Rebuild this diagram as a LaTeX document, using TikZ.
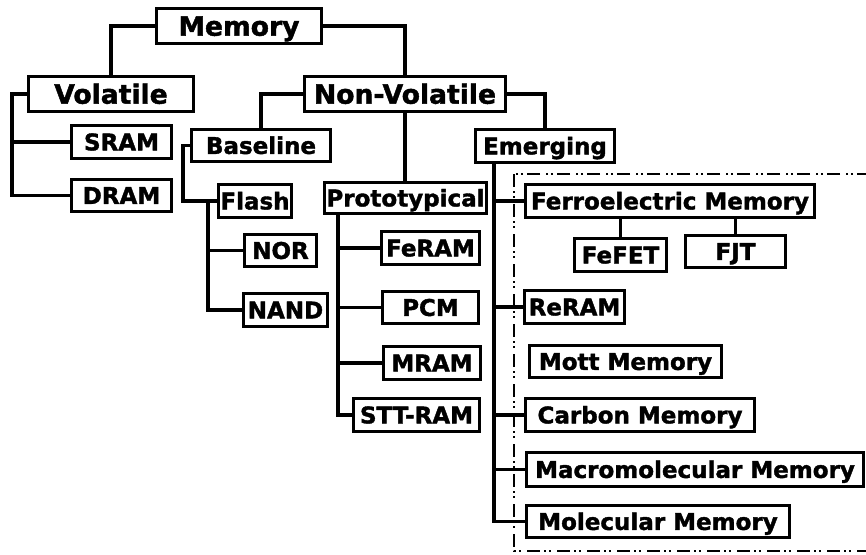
\documentclass[tikz,border=0pt]{standalone}
\usepackage{fontspec}
\setmainfont{DejaVu Sans}[BoldFeatures={FakeBold=1.6}]
\usetikzlibrary{calc}

% labelled box from its outer corners (x1,y1)-(x2,y2), y counted downwards
\newcommand{\boxnode}[7]{%
  \node[#7, minimum width={(#4-#2-3.2)*1pt}, minimum height={(#5-#3-3.2)*1pt}]
    (#1) at ({(#2+#4)/2},{(#3+#5)/2}) {#6};}

\tikzset{
  box/.style={draw, line width=3.2pt, inner sep=0pt, text depth=0pt,
    font=\fontsize{23}{26}\selectfont\bfseries, text height=16.8pt},
  bigbox/.style={box, font=\fontsize{26.6}{30}\selectfont\bfseries, text height=19.4pt},
  link/.style={line width=3.1pt},
  group/.style={line width=2.3pt,
    dash pattern=on 13pt off 4pt on 2pt off 3pt on 2pt off 6pt}
}

\begin{document}
\begin{tikzpicture}[x=1pt, y=-1pt]
\useasboundingbox (0,0) rectangle (866,554);
\clip (0,0) rectangle (866,554);

% top levels
\boxnode{memory}{155}{7}{323}{45}{Memory}{bigbox}
\boxnode{volatile}{27}{75}{195}{113}{Volatile}{bigbox}
\boxnode{nonvol}{303}{75}{507}{113}{Non-Volatile}{bigbox}

% volatile branch
\boxnode{sram}{70}{124}{173}{160}{SRAM}{box}
\boxnode{dram}{70}{178}{173}{213}{DRAM}{box}

% baseline branch
\boxnode{baseline}{190}{128}{332}{163}{Baseline}{box}
\boxnode{flash}{217}{183}{293}{219}{Flash}{box}
\boxnode{nor}{243}{233}{318}{268}{NOR}{box}
\boxnode{nand}{242}{292}{329}{328}{NAND}{box}

% prototypical branch
\boxnode{proto}{323}{181}{488}{215}{Prototypical}{box}
\boxnode{feram}{380}{230}{481}{266}{FeRAM}{box}
\boxnode{pcm}{381}{290}{480}{325}{PCM}{box}
\boxnode{mram}{382}{345}{482}{381}{MRAM}{box}
\boxnode{sttram}{352}{397}{481}{433}{STT-RAM}{box}

% emerging branch
\boxnode{emerging}{474}{128}{616}{164}{Emerging}{box}
\boxnode{ferro}{524}{183}{816}{219}{Ferroelectric Memory}{box}
\boxnode{fefet}{573}{237}{668}{273}{FeFET}{box}
\boxnode{fjt}{684}{234}{787}{269}{FJT}{box}
\boxnode{reram}{523}{289}{626}{325}{ReRAM}{box}
\boxnode{mott}{528}{344}{723}{379}{Mott Memory}{box}
\boxnode{carbon}{524}{397}{756}{433}{Carbon Memory}{box}
\boxnode{macro}{525}{451}{865}{488}{Macromolecular Memory}{box}
\boxnode{molec}{525}{504}{791}{539}{Molecular Memory}{box}

% frame round the emerging memories
\draw[group] (514,174) rectangle (900,551);

% connectors
\draw[link] (memory.west) -| (volatile.north);
\draw[link] (memory.east) -| (nonvol.north);

\coordinate (vbus) at ($(volatile.west)+(-15,0)$);
\draw[link] (volatile.west) -- (vbus) |- (dram.west);
\draw[link] (sram.west) -- (sram.west -| vbus);

\draw[link] (nonvol.west) -| (baseline.north);
\draw[link] (nonvol.south) -- (nonvol.south |- proto.north);
\draw[link] (nonvol.east) -| (emerging.north);

\coordinate (bbus) at ($(baseline.west)+(-7,0)$);
\draw[link] (baseline.west) -- (bbus) |- (flash.west);
\coordinate (fbus) at ($(flash.west)+(-9,0)$);
\draw[link] (fbus) |- (nand.west);
\draw[link] (nor.west) -- (nor.west -| fbus);

\coordinate (pbus) at ([xshift=15pt]proto.south west);
\draw[link] (pbus) |- (sttram.west);
\foreach \n in {feram, pcm, mram}
  \draw[link] (\n.west) -- (\n.west -| pbus);

\coordinate (ebus) at ([xshift=20pt]emerging.south west);
\draw[link] (ebus) |- (molec.west);
\foreach \n in {ferro, reram, carbon, macro}
  \draw[link] (\n.west) -- (\n.west -| ebus);

\draw[link] (fefet.north) -- (fefet.north |- ferro.south);
\draw[link] (fjt.north) -- (fjt.north |- ferro.south);
\end{tikzpicture}
\end{document}
